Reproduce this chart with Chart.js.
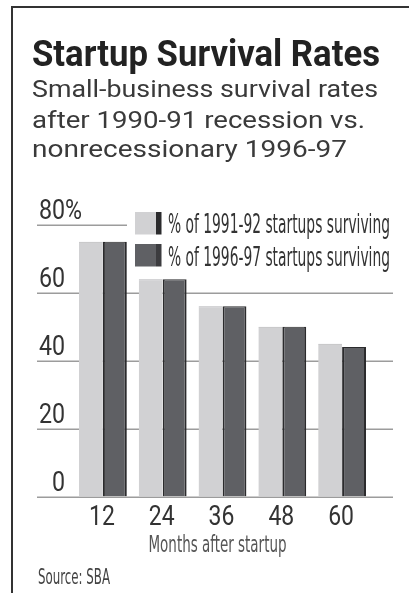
<!DOCTYPE html>
<html>
<head>
<meta charset="utf-8">
<script src="https://cdn.jsdelivr.net/npm/chart.js@4.4.1/dist/chart.umd.min.js"></script>
<style>
  html, body { margin: 0; padding: 0; background: #fff; }
  #wrap { position: relative; width: 409px; height: 593px; overflow: hidden; }
  #frame { position: absolute; left: 11px; top: 6px; right: 0; bottom: 0;
           border-left: 2px solid #333; border-top: 2px solid #333; }
  #chart { position: absolute; left: 0; top: 0; }
  .txt { position: absolute; left: 32px; white-space: nowrap; transform-origin: 0 0; }
  .title { font: bold 36px/36px Roboto, sans-serif; color: #222; top: 36px; }
  .sub { font: 24px/24px Roboto, sans-serif; color: #3a3a3a; }
  .src { font: 21px/21px "Liberation Sans Narrow", "DejaVu Sans Condensed", sans-serif;
         color: #444; left: 38px; top: 567px; }
</style>
</head>
<body>
<div id="wrap">
  <div id="frame"></div>
  <canvas id="chart" width="409" height="593"></canvas>
  <div class="txt title fit" data-w="348">Startup Survival Rates</div>
  <div class="txt sub fit" data-w="346" style="top:77px">Small-business survival rates</div>
  <div class="txt sub fit" data-w="333" style="top:108px">after 1990-91 recession vs.</div>
  <div class="txt sub fit" data-w="315" style="top:137px">nonrecessionary 1996-97</div>
  <div class="txt src fit" data-w="72">Source: SBA</div>
</div>
<script>
// datos
const meses = ["12", "24", "36", "48", "60"];
const startups9192 = [75, 64, 56, 50, 45];
const startups9697 = [75, 64, 56, 50, 44];
const yTicks = [0, 20, 40, 60, 80];
const serieNombres = ["% of 1991-92 startups surviving", "% of 1996-97 startups surviving"];
const ejeX = "Months after startup";

const claro = "#d1d1d3";
const oscuro = "#5f6064";
const borde = "#2b2b2d";
const narrow = '"Liberation Sans Narrow", "DejaVu Sans Condensed", sans-serif';

// ajusta el ancho del texto HTML al del original
document.querySelectorAll(".fit").forEach((el) => {
  const w = el.getBoundingClientRect().width;
  el.style.transform = `scaleX(${el.dataset.w / w})`;
});

function texto(ctx, str, x, y, align, sx) {
  ctx.save();
  ctx.translate(x, y);
  ctx.scale(sx, 1);
  ctx.textAlign = align;
  ctx.textBaseline = "alphabetic";
  ctx.fillText(str, 0, 0);
  ctx.restore();
}

function textoAncho(ctx, str, x, y, ancho) {
  const w = ctx.measureText(str).width;
  texto(ctx, str, x, y, "left", ancho / w);
}

const fondo = {
  id: "fondo",
  beforeDatasetsDraw(chart) {
    const { ctx, scales } = chart;
    const y = scales.y;
    ctx.save();
    ctx.strokeStyle = "#9c9c9c";
    ctx.lineWidth = 1.5;
    yTicks.forEach((v) => {
      const py = Math.round(y.getPixelForValue(v)) + 0.25;
      ctx.beginPath();
      ctx.moveTo(37, py);
      ctx.lineTo(v === 80 ? 127 : 393, py);
      ctx.stroke();
    });
    ctx.restore();
  },
  afterDraw(chart) {
    const { ctx, scales } = chart;
    const x = scales.x, y = scales.y;
    ctx.save();
    ctx.fillStyle = "#333";

    // etiquetas del eje y, encima de cada línea
    ctx.font = "27px Roboto, sans-serif";
    yTicks.forEach((v) => {
      const py = y.getPixelForValue(v) - 6;
      texto(ctx, String(v), 65, py, "right", 0.86);
      if (v === 80) texto(ctx, "%", 65, py, "left", 0.86);
    });

    // etiquetas del eje x
    ctx.font = "28px Roboto, sans-serif";
    meses.forEach((m, i) => {
      texto(ctx, m, x.getPixelForValue(i) - 1, 525, "center", 0.82);
    });

    ctx.fillStyle = "#555";
    ctx.font = "23px " + narrow;
    const wt = ctx.measureText(ejeX).width;
    texto(ctx, ejeX, 217.5, 551.5, "center", 138 / wt);

    // leyenda
    const filas = [
      { c: claro, top: 212, base: 233 },
      { c: oscuro, top: 244, base: 265.5 },
    ];
    filas.forEach((f, i) => {
      ctx.fillStyle = f.c;
      ctx.fillRect(135, f.top, 21, 22.5);
      ctx.fillStyle = i === 0 ? "#2b2b2d" : "#3c3c3f";
      ctx.fillRect(156, f.top, 5.5, 22.5);
      ctx.fillStyle = "#333";
      ctx.font = "27px " + narrow;
      textoAncho(ctx, serieNombres[i], 168, f.base, 222);
    });
    ctx.restore();
  },
};

new Chart(document.getElementById("chart"), {
  type: "bar",
  data: {
    labels: meses,
    datasets: [
      {
        label: serieNombres[0],
        data: startups9192,
        backgroundColor: claro,
        borderColor: "#b4b4b6",
        borderWidth: { top: 1, left: 0, right: 0, bottom: 0 },
        borderSkipped: "bottom",
      },
      {
        label: serieNombres[1],
        data: startups9697,
        backgroundColor: oscuro,
        borderColor: borde,
        borderWidth: { top: 1, left: 2, right: 2, bottom: 0 },
        borderSkipped: "bottom",
      },
    ],
  },
  options: {
    responsive: false,
    devicePixelRatio: 1,
    animation: false,
    events: [],
    layout: { padding: { left: 73, right: 37, top: 224.8, bottom: 96.5 } },
    datasets: { bar: { categoryPercentage: 0.8, barPercentage: 1.0 } },
    scales: {
      x: { display: false },
      y: { display: false, min: 0, max: 80 },
    },
    plugins: { legend: { display: false }, tooltip: { enabled: false } },
  },
  plugins: [fondo],
});
</script>
</body>
</html>
